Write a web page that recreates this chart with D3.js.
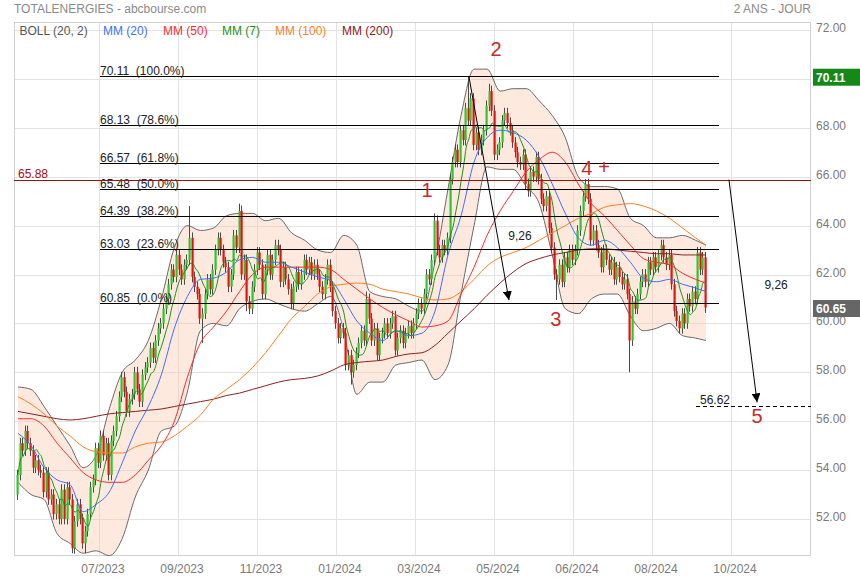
<!DOCTYPE html>
<html><head><meta charset="utf-8">
<script src="https://cdn.jsdelivr.net/npm/d3@7"></script>
<style>
body{margin:0;background:#fff;}
svg{display:block;font-family:Arial,"Liberation Sans",sans-serif;}
</style>
</head><body><svg id="c" width="860" height="580"></svg>
<script>
// ---------------- DATA ----------------
const title = "TOTALENERGIES - abcbourse.com";
const period = "2 ANS - JOUR";
const firstOpen = 53.0;
const closes = [
53.8,55.1,54.8,55.6,55.1, 54.8,54.1,54.4,54.0,53.9, 53.1,53.9,52.8,53.0,52.2, 52.6,52.0,53.2,52.0,53.3,
52.8,50.8,51.9,52.6,52.0, 51.0,51.5,52.2,53.3,53.6, 54.9,54.3,55.4,54.6,55.1, 53.8,55.2,55.6,56.2,57.0,
57.8,57.2,56.4,56.9,57.1, 58.0,57.3,56.8,57.9,58.2, 58.4,59.0,58.6,59.3,59.8, 60.0,60.6,61.0,61.6,62.2,
61.9,62.8,62.2,61.8,62.4, 62.6,63.5,61.9,61.5,61.2, 60.2,60.4,61.2,61.8,61.4, 62.2,63.0,63.5,63.0,62.5,
62.3,61.5,62.0,63.6,63.1, 64.6,62.0,62.6,60.9,60.6, 61.5,62.2,62.9,62.4,61.2, 62.2,62.8,62.0,62.6,63.2,
63.0,61.7,62.3,61.8,61.4, 60.8,61.5,62.1,61.6,62.0, 62.6,62.2,62.5,62.0,62.4, 62.0,61.5,61.2,61.8,62.4,
61.5,60.5,60.0,59.4,59.8, 59.6,58.3,58.7,58.0,58.3, 58.8,59.2,59.7,59.3,61.0, 60.2,59.3,59.8,58.7,59.4,
59.6,60.0,59.6,60.0,60.3, 58.9,59.4,59.7,59.2,59.6, 59.9,59.6,60.0,60.4,60.8, 60.6,61.2,62.0,61.8,62.6,
64.2,63.0,62.7,63.2,63.0, 63.5,65.9,66.6,67.1,66.6, 67.9,67.5,68.8,68.3,69.2, 67.3,67.8,67.1,67.5,67.9,
68.9,69.5,68.7,66.9,67.1, 67.4,68.3,68.6,68.2,67.9, 67.4,67.0,66.6,66.5,66.9, 65.7,65.4,66.2,66.0,66.8,
65.9,65.1,64.8,65.2,63.9, 63.1,62.0,61.8,62.4,61.7, 62.7,62.3,63.0,62.6,63.0, 63.8,64.6,65.2,65.7,65.1,
63.4,63.8,63.2,62.9,62.3, 63.0,62.6,62.2,62.5,61.8, 62.3,61.9,61.6,61.8,61.2, 59.3,60.9,60.6,61.2,61.7,
62.0,61.7,62.5,62.2,62.7, 62.3,62.8,63.2,62.7,62.4, 62.8,61.6,60.5,60.1,59.8, 60.4,60.0,61.0,60.7,61.3,
61.0,62.9,62.2,62.7,60.65
];
// notable wick extremes
const wickHighs = [[66,64.8],[85,64.9],[173,70.11],[181,69.8],[218,65.9],[160,64.5],[134,61.3]];
const wickLows  = [[21,50.6],[26,50.6],[71,59.2],[128,57.5],[207,60.96],[235,58.0],[88,60.5]];

// indicator values read every 5 bars (last one = last bar)
const bbUpper = [57.4,57.3,56.6,55.8,55.0,54.1,54.6,56.5,58.0,58.5,59.3,61.0,63.1,64.0,63.8,63.9,64.4,64.5,64.5,64.2,64.3,63.7,63.4,63.0,62.9,63.6,63.2,61.3,61.1,61.0,60.7,60.5,62.5,65.5,68.5,70.4,70.4,69.5,69.6,69.6,69.1,68.5,67.6,66.0,65.6,65.6,65.5,64.3,64.0,63.5,63.5,63.6,63.4,63.2];
const bbLower = [53.5,53.0,52.8,51.4,51.0,50.6,50.7,50.5,51.2,52.9,54.0,55.6,55.8,57.2,59.7,60.0,59.9,60.6,60.9,61.0,60.8,60.6,60.5,60.8,61.1,59.7,57.1,57.6,57.6,58.3,58.4,58.5,57.7,58.3,61.2,64.0,66.4,66.3,66.3,65.6,64.9,62.8,60.6,60.4,61.0,61.2,61.2,60.3,59.7,59.8,60.0,59.5,59.4,59.3];
const mm20 = [55.5,55.0,54.1,53.6,53.4,52.3,52.6,53.1,54.3,55.6,56.6,57.9,59.8,61.1,61.8,61.85,62.1,62.6,62.7,62.5,62.5,62.3,62.1,61.9,61.75,61.0,60.1,59.6,59.3,59.7,59.5,59.6,60.5,62.8,64.4,66.6,67.6,67.9,67.8,67.5,66.8,65.7,64.5,63.5,63.2,63.4,63.1,62.5,61.85,61.7,61.8,61.6,61.45,61.3];
const mm50 = [56.1,56.1,55.8,55.1,54.5,53.9,53.6,53.5,53.5,53.8,54.4,55.0,56.0,57.8,59.2,59.85,60.5,61.3,62.0,62.3,62.3,62.3,62.3,62.3,62.2,61.8,61.4,61.0,60.65,60.35,60.1,59.85,59.9,60.1,61.2,62.3,63.6,64.6,65.4,66.2,66.7,67.0,66.6,65.7,64.9,64.4,63.8,63.2,62.65,62.5,62.4,62.05,61.8,61.65];
const mm100 = [57.0,56.7,56.3,55.8,55.4,54.95,54.75,54.7,54.7,54.95,55.1,55.15,55.4,55.8,56.25,56.9,57.3,57.7,58.2,58.8,59.5,60.2,60.7,61.2,61.5,61.6,61.65,61.6,61.4,61.3,61.2,61.05,60.96,61.0,61.3,61.8,62.35,62.7,62.9,63.1,63.4,63.7,64.0,64.3,64.5,64.75,64.85,64.9,64.8,64.6,64.3,63.9,63.5,63.2];
const mm200 = [56.4,56.3,56.2,56.1,56.05,56.1,56.2,56.3,56.35,56.4,56.45,56.5,56.6,56.7,56.8,56.9,57.05,57.15,57.3,57.45,57.6,57.7,57.75,57.85,58.05,58.3,58.4,58.45,58.5,58.65,58.75,58.8,59.1,59.6,60.1,60.6,61.15,61.65,62.1,62.45,62.65,62.8,62.9,63.0,63.05,63.05,63.0,62.95,62.9,62.85,62.85,62.8,62.8,62.8];

const priceTicks = [52,54,56,58,60,62,64,66,68,70,72];
const dateLabels = ["07/2023","09/2023","11/2023","01/2024","03/2024","05/2024","06/2024","08/2024","10/2024"];
const fibLevels = [70.11,68.13,66.57,65.48,64.39,63.03,60.85];
const fibPct = ["100.0%","78.6%","61.8%","50.0%","38.2%","23.6%","0.0%"];
const legendNames = ["BOLL (20, 2)","MM (20)","MM (50)","MM (7)","MM (100)","MM (200)"];
const refLevel = 65.88;
const targetLevel = 56.62;
const lastPrice = 60.65;
const highPrice = 70.11;
const waveLabels = [["1",157,65.17],["2",183.4,70.94],["3",206.4,59.89],["4",218.3,66.07],["+",224.9,66.1],["5",283.6,55.93]];
const arrows = [[[173,70.11],[188.4,60.95]],[[272.8,65.88],[283.6,56.77]]];
const arrowTexts = [["9,26",192.6,63.41],["9,26",290.9,61.41]];

// ---------------- LAYOUT ----------------
const svg = d3.select("#c");
const P = {l:14, t:22, r:811, b:556};
const N = closes.length;
const x = d3.scaleLinear().domain([0, N-1]).range([18, 706]);
const y = d3.scaleLinear().domain([52, 72]).range([519, 30]);
const TICK0 = 31, TICKSTEP = 30.32;
const sampleIdx = d3.range(0, N-4, 5).concat([N-1]);

const col = {boll:"#555555", mm20:"#3f6fff", mm50:"#ff2b2b", mm7:"#1a931a", mm100:"#ff7f1f", mm200:"#8b2020",
  up:"#2ec52e", down:"#e3130e", wick:"#4a4a4a", wave:"#c92a2a", grid:"#e3e3e3", axis:"#7a7a7a"};

svg.append("text").attr("x",14).attr("y",13).attr("font-size",12).attr("fill","#8a8a8a").text(title);
svg.append("text").attr("x",811).attr("y",13).attr("font-size",12).attr("fill","#8a8a8a").attr("text-anchor","end").text(period);

const defs = svg.append("defs");
defs.append("clipPath").attr("id","clip").append("rect")
  .attr("x",P.l).attr("y",P.t).attr("width",P.r-P.l).attr("height",P.b-P.t);
defs.append("marker").attr("id","ah").attr("viewBox","0 0 10 10").attr("refX",10).attr("refY",5)
  .attr("markerWidth",9).attr("markerHeight",9).attr("markerUnits","userSpaceOnUse").attr("orient","auto")
  .append("path").attr("d","M0,0L10,5L0,10z").attr("fill","#000");

// grid
const g = svg.append("g");
priceTicks.forEach(p => g.append("line").attr("x1",P.l).attr("x2",P.r).attr("y1",Math.round(y(p))+0.5).attr("y2",Math.round(y(p))+0.5).attr("stroke",col.grid));
dateLabels.forEach((d,k) => {
  const xi = Math.round(x(TICK0 + k*TICKSTEP)) + 0.5;
  g.append("line").attr("x1",xi).attr("x2",xi).attr("y1",P.t).attr("y2",P.b).attr("stroke",col.grid);
  svg.append("text").attr("x",xi+3.5).attr("y",573).attr("text-anchor","middle").attr("font-size",12).attr("fill",col.axis).text(d);
});
g.append("rect").attr("x",P.l+0.5).attr("y",P.t+0.5).attr("width",P.r-P.l-1).attr("height",P.b-P.t-1)
  .attr("fill","none").attr("stroke","#d0d0d0");

const plot = svg.append("g").attr("clip-path","url(#clip)");

// Bollinger band
const band = sampleIdx.map((i,k) => ({i, hi:bbUpper[k], lo:bbLower[k]}));
plot.append("path").datum(band)
  .attr("d", d3.area().x(d=>x(d.i)).y0(d=>y(d.lo)).y1(d=>y(d.hi)).curve(d3.curveMonotoneX))
  .attr("fill","#f9c4a8").attr("fill-opacity",0.38);
[["hi"],["lo"]].forEach(([k]) => plot.append("path").datum(band)
  .attr("d", d3.line().x(d=>x(d.i)).y(d=>y(d[k])).curve(d3.curveMonotoneX))
  .attr("fill","none").attr("stroke","#6a6a6a").attr("stroke-width",1));

// candles
const hiMap = new Map(wickHighs), loMap = new Map(wickLows);
const candles = closes.map((c,i) => {
  const o = i ? closes[i-1] : firstOpen;
  let h = Math.max(o,c) + 0.22, l = Math.min(o,c) - 0.22;
  if (hiMap.has(i)) h = hiMap.get(i);
  if (loMap.has(i)) l = loMap.get(i);
  return {i,o,c,h,l};
});
const cg = plot.append("g");
candles.forEach(d => {
  const X = Math.round(x(d.i));
  cg.append("line").attr("x1",X-0.5).attr("x2",X-0.5).attr("y1",y(d.h)).attr("y2",y(d.l)).attr("stroke",col.wick).attr("stroke-width",1);
  const top = y(Math.max(d.o,d.c)), bot = y(Math.min(d.o,d.c));
  cg.append("rect").attr("x",X-1.5).attr("width",2.2).attr("y",top).attr("height",Math.max(1,bot-top))
    .attr("fill", d.c >= d.o ? col.up : col.down);
});

// moving averages
const mm7 = closes.map((c,i) => d3.mean(closes.slice(Math.max(0,i-6), i+1)));
const lineS = d3.line().x(d=>x(d[0])).y(d=>y(d[1])).curve(d3.curveMonotoneX);
[[mm200,col.mm200],[mm100,col.mm100],[mm50,col.mm50],[mm20,col.mm20]].forEach(([arr,c]) =>
  plot.append("path").datum(sampleIdx.map((i,k)=>[i,arr[k]])).attr("d",lineS)
    .attr("fill","none").attr("stroke",c).attr("stroke-width",1));
plot.append("path").datum(mm7.map((v,i)=>[i,v])).attr("d",d3.line().x(d=>x(d[0])).y(d=>y(d[1])).curve(d3.curveMonotoneX))
  .attr("fill","none").attr("stroke",col.mm7).attr("stroke-width",1);

// Fibonacci levels
const fibX0 = 100, fibX1 = 719;
fibLevels.forEach((v,k) => {
  const yy = Math.round(y(v)) + 0.5;
  svg.append("line").attr("x1",fibX0).attr("x2",fibX1).attr("y1",yy).attr("y2",yy).attr("stroke","#000");
  svg.append("text").attr("x",fibX0).attr("y",yy-2).attr("font-size",12).attr("fill","#222")
    .attr("xml:space","preserve").style("white-space","pre").text(v.toFixed(2) + "  (" + fibPct[k] + ")");
});

// reference level
const ry = Math.round(y(refLevel)) + 0.5;
svg.append("line").attr("x1",P.l).attr("x2",P.r).attr("y1",ry).attr("y2",ry).attr("stroke","#a01010");
svg.append("text").attr("x",18).attr("y",ry-3).attr("font-size",12).attr("fill","#a01010").text(refLevel.toFixed(2));

// target level
const ty = Math.round(y(targetLevel)) + 0.5;
svg.append("line").attr("x1",696).attr("x2",P.r).attr("y1",ty).attr("y2",ty).attr("stroke","#000").attr("stroke-dasharray","4,3");
svg.append("text").attr("x",700).attr("y",ty-3).attr("font-size",12).attr("fill","#222").text(targetLevel.toFixed(2));

// arrows
arrows.forEach(([a,b]) => svg.append("line").attr("x1",x(a[0])).attr("y1",y(a[1])).attr("x2",x(b[0])).attr("y2",y(b[1]))
  .attr("stroke","#000").attr("stroke-width",1).attr("marker-end","url(#ah)"));
arrowTexts.forEach(([t,i,p]) => svg.append("text").attr("x",x(i)).attr("y",y(p)).attr("text-anchor","middle")
  .attr("font-size",12).attr("fill","#222").text(t));

// Elliott wave labels
waveLabels.forEach(([t,i,p]) => svg.append("text").attr("x",x(i)).attr("y",y(p)).attr("text-anchor","middle")
  .attr("font-size",20).attr("fill",col.wave).text(t));

// legend
const legX = [19.5,103,163,222,275,342];
const legC = [col.boll,col.mm20,col.mm50,col.mm7,col.mm100,col.mm200];
legendNames.forEach((n,k) => svg.append("text").attr("x",legX[k]).attr("y",34.5).attr("font-size",12).attr("fill",legC[k]).text(n));

// right axis
priceTicks.forEach(p => svg.append("text").attr("x",816).attr("y",Math.round(y(p))+1.5).attr("font-size",12)
  .attr("fill",col.axis).text(p.toFixed(2)));
[[highPrice,"#16881a"],[lastPrice,"#666666"]].forEach(([v,c]) => {
  const cy = y(v) + 1;
  svg.append("rect").attr("x",813).attr("y",cy-8.5).attr("width",47).attr("height",17).attr("fill",c);
  svg.append("text").attr("x",816).attr("y",cy+4.5).attr("font-size",12).attr("font-weight","bold").attr("fill","#fff").text(v.toFixed(2));
});
</script>
</body></html>
